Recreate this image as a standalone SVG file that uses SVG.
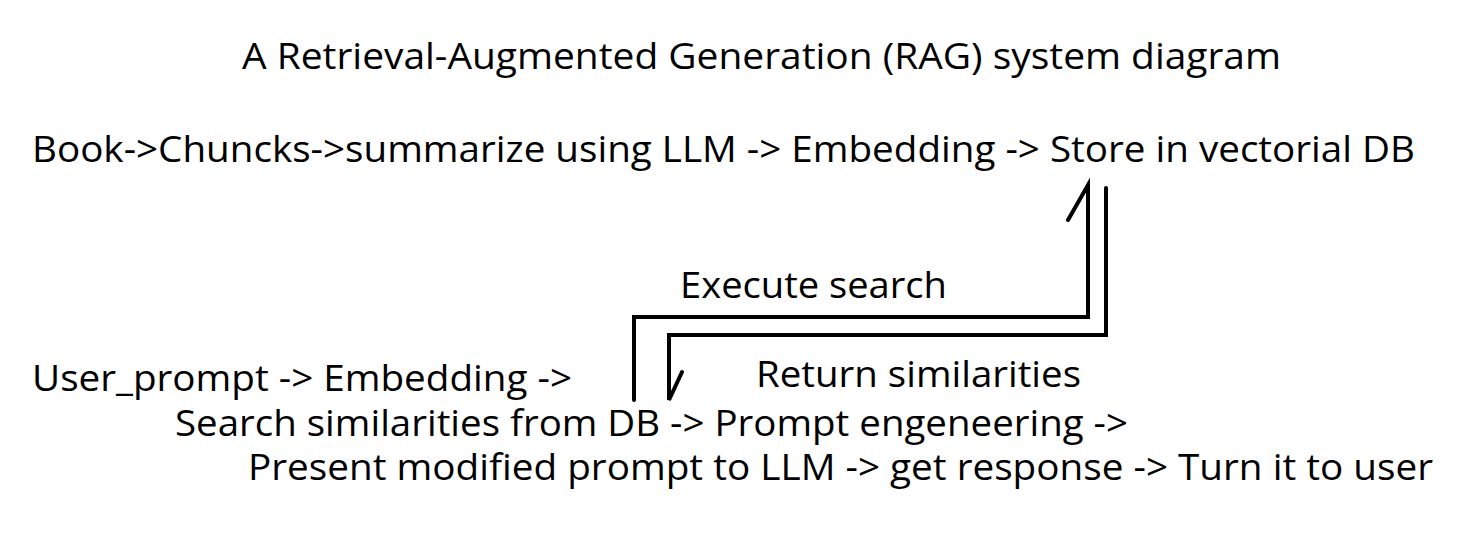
<svg xmlns="http://www.w3.org/2000/svg" width="1476" height="550" viewBox="0 0 1476 550">
<style>
text{font-family:"Open Sans","Noto Sans",sans-serif;fill:#000;font-size:37px}
.c{fill:none;stroke:#000;stroke-width:4;stroke-linejoin:miter;stroke-linecap:round}
</style>
<rect width="1476" height="550" fill="#fff"/>
<g id="title"><text x="242" y="69" textLength="1039" lengthAdjust="spacingAndGlyphs">A Retrieval-Augmented Generation (RAG) system diagram</text></g>
<g id="ingest"><text x="32" y="162" textLength="1383" lengthAdjust="spacingAndGlyphs">Book-&gt;Chuncks-&gt;summarize using LLM -&gt; Embedding -&gt; Store in vectorial DB</text></g>
<g id="query">
<text x="32" y="391" textLength="540" lengthAdjust="spacingAndGlyphs">User_prompt -&gt; Embedding -&gt;</text>
<text x="175" y="436" textLength="953" lengthAdjust="spacingAndGlyphs">Search similarities from DB -&gt; Prompt engeneering -&gt;</text>
<text x="248" y="480" textLength="1185" lengthAdjust="spacingAndGlyphs">Present modified prompt to LLM -&gt; get response -&gt; Turn it to user</text>
</g>
<g id="connectors">
<path class="c" d="M634,400 V317 H1088 V185 L1068,220"/>
<path class="c" d="M1106,188 V335 H669 V400 L682,372"/>
<text x="680" y="298" textLength="267" lengthAdjust="spacingAndGlyphs">Execute search</text>
<text x="756" y="387" textLength="325" lengthAdjust="spacingAndGlyphs">Return similarities</text>
</g>
</svg>
